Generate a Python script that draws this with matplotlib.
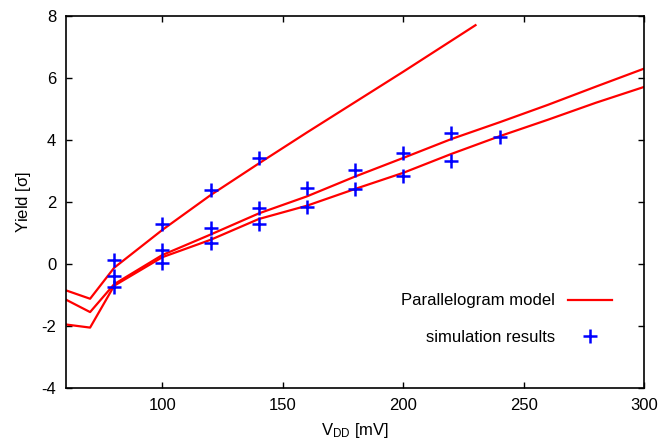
import matplotlib
matplotlib.use("Agg")
import matplotlib.pyplot as plt

plt.rcParams['font.family'] = ['Liberation Sans', 'DejaVu Sans']
plt.rcParams['mathtext.default'] = 'regular'
plt.rcParams['axes.unicode_minus'] = False

# model curves (Parallelogram model)
vdd_a = [60, 70, 80, 100, 120, 140, 160, 180, 200, 220, 230]
yield_a = [-0.85, -1.12, -0.12, 1.1, 2.22, 3.24, 4.24, 5.22, 6.2, 7.2, 7.7]

vdd_b = [60, 70, 80, 100, 120, 140, 160, 180, 200, 220, 240, 260, 280, 300]
yield_b = [-1.15, -1.55, -0.65, 0.29, 0.95, 1.63, 2.18, 2.82, 3.42, 4.03, 4.57, 5.13, 5.72, 6.3]
yield_c = [-1.95, -2.05, -0.7, 0.22, 0.78, 1.45, 1.88, 2.42, 2.94, 3.55, 4.12, 4.65, 5.2, 5.71]

# simulation results
sim_vdd = [80, 80, 80, 100, 100, 100, 120, 120, 120, 140, 140, 140,
           160, 160, 180, 180, 200, 200, 220, 220, 240]
sim_yield = [0.13, -0.38, -0.73, 1.28, 0.45, 0.02, 2.39, 1.16, 0.68, 3.42, 1.82, 1.29,
             2.45, 1.84, 3.02, 2.41, 3.59, 2.84, 4.23, 3.33, 4.1]

fig = plt.figure(figsize=(6.62, 4.41), dpi=100)
ax = fig.add_axes([0.0997, 0.120, 0.8733, 0.844])

ax.plot(vdd_a, yield_a, color='#ff0000', lw=1.6, label='Parallelogram model')
ax.plot(vdd_b, yield_b, color='#ff0000', lw=1.6)
ax.plot(vdd_b, yield_c, color='#ff0000', lw=1.6)
ax.plot(sim_vdd, sim_yield, ls='none', marker='+', ms=10, mew=1.8,
        color='#0000ff', label='simulation results')

ax.set_xlim(60, 300)
ax.set_ylim(-4, 8)
ax.set_xticks([100, 150, 200, 250, 300])
ax.set_yticks([-4, -2, 0, 2, 4, 6, 8])
ax.tick_params(direction='in', top=True, right=True, length=4, width=1,
               labelsize=12, pad=7)
for s in ax.spines.values():
    s.set_linewidth(1.2)

ax.set_xlabel(r'V$_{DD}$ [mV]', fontsize=12, labelpad=6)
ax.set_ylabel(r'Yield [$\sigma$]', fontsize=12, labelpad=6)

ax.legend(loc='lower right', bbox_to_anchor=(0.97, 0.075), frameon=False,
          markerfirst=False, fontsize=12, handlelength=2.6, labelspacing=1.3,
          handletextpad=0.8)

fig.savefig('out.png', dpi=100)
